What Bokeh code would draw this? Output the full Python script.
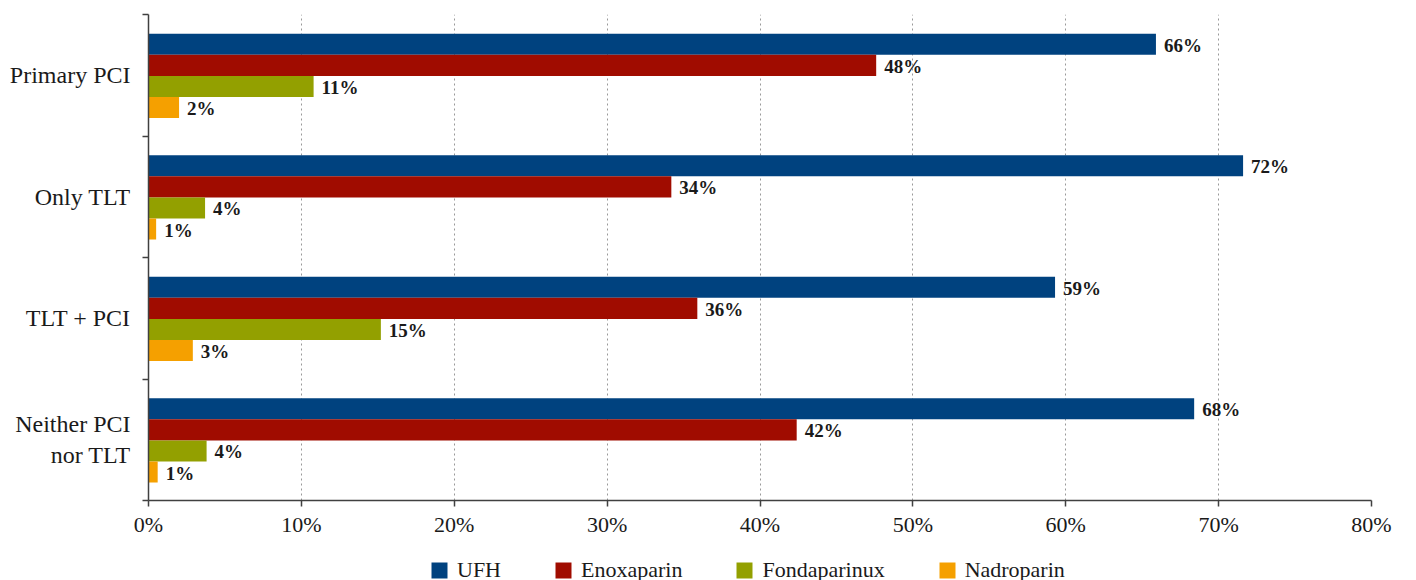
from bokeh.plotting import figure
from bokeh.layouts import column
from bokeh.models import ColumnDataSource, Range1d, FixedTicker, Legend, LegendItem
from bokeh.core.properties import value
from bokeh.embed import file_html
from bokeh.resources import INLINE

# ---------------- data ----------------
categories = ["Primary PCI", "Only TLT", "TLT + PCI", "Neither PCI\nnor TLT"]
series_names = ["UFH", "Enoxaparin", "Fondaparinux", "Nadroparin"]

ufh = [65.9, 71.6, 59.3, 68.4]
enoxaparin = [47.6, 34.2, 35.9, 42.4]
fondaparinux = [10.8, 3.7, 15.2, 3.8]
nadroparin = [2.0, 0.5, 2.9, 0.6]

ufh_labels = ["66%", "72%", "59%", "68%"]
enoxaparin_labels = ["48%", "34%", "36%", "42%"]
fondaparinux_labels = ["11%", "4%", "15%", "4%"]
nadroparin_labels = ["2%", "1%", "3%", "1%"]

x_ticks = [0, 10, 20, 30, 40, 50, 60, 70, 80]
x_tick_labels = ["0%", "10%", "20%", "30%", "40%", "50%", "60%", "70%", "80%"]

colors = ["#00427F", "#A00C00", "#93A000", "#F5A000"]
FONT = "Liberation Serif"

# ---------------- main figure ----------------
n = len(categories)
centers = [n - 0.5 - i for i in range(n)]
boundaries = list(range(n + 1))

p = figure(width=1416, height=540, output_backend="svg", toolbar_location=None,
           x_range=Range1d(0, 80), y_range=Range1d(0, n),
           min_border_left=148, min_border_right=45, min_border_top=14,
           min_border_bottom=40)
p.outline_line_color = None
p.background_fill_color = "white"
p.border_fill_color = "white"

bar_h = 0.1735
offsets = [0.255, 0.0815, -0.092, -0.2655]

all_values = [ufh, enoxaparin, fondaparinux, nadroparin]
all_labels = [ufh_labels, enoxaparin_labels, fondaparinux_labels, nadroparin_labels]

for vals, labs, col, off in zip(all_values, all_labels, colors, offsets):
    src = ColumnDataSource(dict(y=[c + off for c in centers], right=vals, label=labs))
    p.hbar(y="y", left=0, right="right", height=bar_h, source=src,
           fill_color=col, line_color=None)
    p.text(x="right", y="y", text="label", source=src, x_offset=8, y_offset=1,
           text_baseline="middle", text_align="left",
           text_font=value(FONT), text_font_style="bold",
           text_font_size="19px", text_color="#1a1a1a")

# x axis
xa = p.xaxis[0]
xa.ticker = FixedTicker(ticks=x_ticks)
xa.major_label_overrides = {t: l for t, l in zip(x_ticks, x_tick_labels)}
xa.major_tick_out = 6
xa.major_tick_in = 0
xa.minor_tick_out = 0
xa.axis_line_color = "#404040"
xa.axis_line_width = 1.5
xa.major_tick_line_color = "#404040"
xa.major_tick_line_width = 1.5
xa.major_label_text_font = FONT
xa.major_label_text_font_size = "22px"
xa.major_label_text_color = "#1a1a1a"
xa.major_label_standoff = 5

# y axis
ya = p.yaxis[0]
ya.ticker = FixedTicker(ticks=centers, minor_ticks=boundaries)
ya.major_label_overrides = {c: lab for c, lab in zip(centers, categories)}
ya.major_tick_out = 0
ya.major_tick_in = 0
ya.minor_tick_out = 6
ya.minor_tick_in = 0
ya.minor_tick_line_color = "#404040"
ya.minor_tick_line_width = 1.5
ya.axis_line_color = "#404040"
ya.axis_line_width = 1.5
ya.major_label_text_font = FONT
ya.major_label_text_font_size = "24px"
ya.major_label_text_color = "#1a1a1a"
ya.major_label_standoff = 12

# grid
p.xgrid.grid_line_color = "#999999"
p.xgrid.grid_line_dash = "2 3"
p.xgrid.grid_line_width = 1
p.ygrid.visible = False

# ---------------- legend strip ----------------
pl = figure(width=1416, height=40, output_backend="svg", toolbar_location=None,
            x_range=Range1d(0, 1), y_range=Range1d(0, 1),
            x_axis_type=None, y_axis_type=None,
            min_border_left=0, min_border_right=0, min_border_top=0,
            min_border_bottom=0)
pl.outline_line_color = None
pl.xgrid.visible = False
pl.ygrid.visible = False

legend_items = []
for name, col in zip(series_names, colors):
    # legend-only swatch renderer, kept outside the visible range
    r = pl.rect(x=[-5], y=[-5], width=1, height=1, fill_color=col, line_color=None)
    legend_items.append(LegendItem(label=name, renderers=[r]))

legend = Legend(items=legend_items, orientation="horizontal", location=(281, -3),
                glyph_width=20, glyph_height=20, label_standoff=8, spacing=52,
                padding=0, margin=0, border_line_color=None, background_fill_alpha=0,
                label_text_font=FONT, label_text_font_size="22px",
                label_text_color="#1a1a1a")
pl.add_layout(legend, "center")

layout = column(p, pl, spacing=0)
open("out.html", "w").write(file_html(layout, INLINE))
